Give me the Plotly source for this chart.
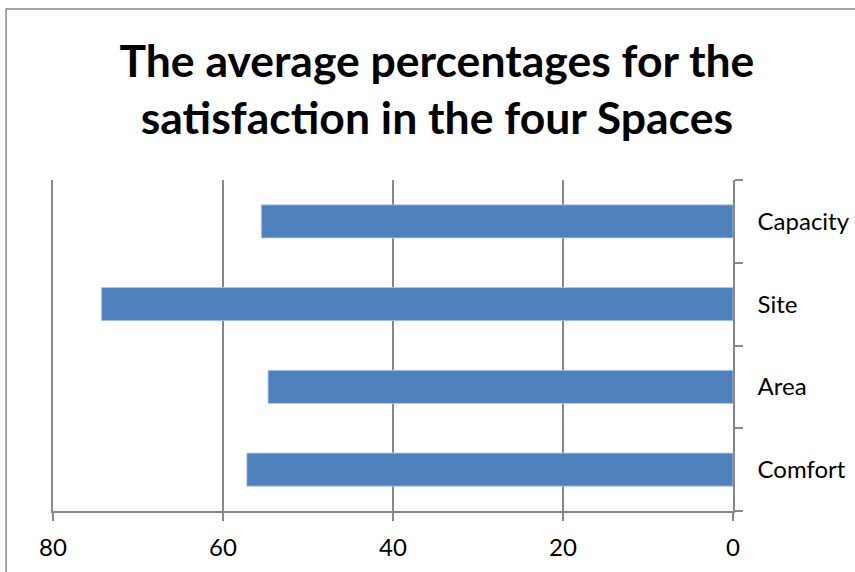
import plotly.graph_objects as go

categories = ["Comfort", "Area", "Site", "Capacity"]
values = [57.2, 54.7, 74.3, 55.5]
x_ticks = [80, 60, 40, 20, 0]

BAR = "#4F81BD"
GRID = "#878787"

fig = go.Figure(go.Bar(
    y=categories, x=values, orientation="h",
    marker=dict(color=BAR, line=dict(color="#B9CDE5", width=0.8)),
    width=0.4,
))

fig.update_layout(
    width=855, height=572,
    margin=dict(l=53, r=122, t=180, b=61, autoexpand=False),
    paper_bgcolor="white", plot_bgcolor="white",
    showlegend=False,
    title=dict(
        text="<b>The average percentages for the<br>satisfaction in the four Spaces</b>",
        x=0.511, xanchor="center", y=0.866, yanchor="top", yref="container",
        font=dict(family="Lato, Open Sans, sans-serif", size=44.5, color="black"),
    ),
    font=dict(family="Lato, Open Sans, sans-serif", size=24, color="black"),
    shapes=[dict(type="rect", xref="paper", yref="paper",
                 x0=-0.069, x1=1.2, y0=-0.3, y1=1.5166,
                 line=dict(color=GRID, width=1.5))],
)

fig.update_xaxes(
    range=[80, 0], tickvals=x_ticks, ticktext=[str(v) for v in x_ticks],
    showgrid=True, gridcolor=GRID, gridwidth=1.5,
    showline=True, linecolor=GRID, linewidth=1.5,
    ticks="outside", ticklen=8, tickcolor=GRID, tickwidth=1.5,
    ticklabelstandoff=6, automargin=False,
    zeroline=False, fixedrange=True,
)
fig.update_yaxes(
    side="right", type="category", categoryorder="array", categoryarray=categories,
    showgrid=False, showline=True, mirror=True, linecolor=GRID, linewidth=1.5,
    ticks="outside", ticklen=8, tickcolor=GRID, tickwidth=1.5,
    tickson="boundaries", ticklabelstandoff=18, automargin=False,
    zeroline=False, fixedrange=True,
)

fig.write_html("out.html")
